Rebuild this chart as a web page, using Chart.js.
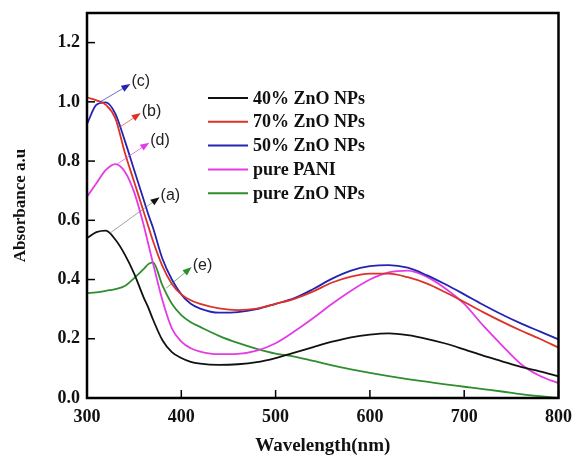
<!DOCTYPE html>
<html>
<head>
<meta charset="utf-8">
<script src="https://cdn.jsdelivr.net/npm/chart.js@4.4.1/dist/chart.umd.min.js"></script>
<style>
  html, body { margin: 0; padding: 0; background: #fff; }
  #wrap { width: 581px; height: 457px; }
</style>
</head>
<body>
<div id="wrap"><canvas id="absChart" width="581" height="457"></canvas></div>
<script>
// Wavelength (nm) sample points shared by all curves
const wavelengths = [300, 310, 320, 330, 340, 350, 360, 365, 370, 380, 390, 400, 410, 420, 440, 460, 480,
  500, 520, 540, 560, 580, 600, 620, 640, 660, 680, 700, 720, 740, 760, 780, 800];

const zno40 = [0.54, 0.56, 0.565, 0.535, 0.485, 0.42, 0.34, 0.305, 0.265, 0.195, 0.155, 0.135, 0.122, 0.116, 0.112, 0.114, 0.121,
  0.135, 0.153, 0.172, 0.19, 0.205, 0.214, 0.218, 0.212, 0.2, 0.184, 0.164, 0.143, 0.124, 0.105, 0.09, 0.073];
const zno70 = [1.015, 1.005, 0.99, 0.945, 0.83, 0.73, 0.63, 0.58, 0.53, 0.445, 0.385, 0.35, 0.33, 0.318, 0.303, 0.297, 0.302,
  0.318, 0.335, 0.36, 0.39, 0.41, 0.42, 0.42, 0.408, 0.387, 0.357, 0.324, 0.29, 0.258, 0.228, 0.2, 0.17];
const zno50 = [0.925, 0.99, 0.998, 0.96, 0.87, 0.77, 0.67, 0.62, 0.575, 0.47, 0.4, 0.35, 0.318, 0.302, 0.288, 0.29, 0.3,
  0.318, 0.337, 0.368, 0.403, 0.43, 0.445, 0.449, 0.44, 0.415, 0.384, 0.35, 0.315, 0.282, 0.252, 0.225, 0.198];
const purePani = [0.68, 0.725, 0.77, 0.79, 0.765, 0.695, 0.585, 0.52, 0.455, 0.33, 0.235, 0.19, 0.168, 0.157, 0.148, 0.149, 0.16,
  0.185, 0.225, 0.27, 0.318, 0.362, 0.4, 0.424, 0.43, 0.41, 0.37, 0.318, 0.245, 0.178, 0.115, 0.075, 0.05];
const pureZno = [0.354, 0.357, 0.362, 0.368, 0.378, 0.405, 0.435, 0.452, 0.458, 0.38, 0.318, 0.28, 0.256, 0.24, 0.21, 0.186, 0.166,
  0.15, 0.14, 0.125, 0.11, 0.097, 0.085, 0.074, 0.064, 0.055, 0.046, 0.038, 0.03, 0.022, 0.013, 0.006, 0.0];

const seriesNames = ['40% ZnO NPs', '70% ZnO NPs', '50% ZnO NPs', 'pure PANI', 'pure ZnO NPs'];
const xTicks = [300, 400, 500, 600, 700, 800];
const yTicks = [0.0, 0.2, 0.4, 0.6, 0.8, 1.0, 1.2];

const colors = ['#111111', '#dc3228', '#2424b4', '#e43ce4', '#2e8e2e'];
const serif = "'Liberation Serif', 'Times New Roman', serif";

// Arrow callouts (data coordinates)
const callouts = [
  { text: '(c)', from: [314, 1.0], to: [346, 1.06], color: colors[2] },
  { text: '(b)', from: [335, 0.915], to: [357, 0.962], color: colors[1] },
  { text: '(d)', from: [332, 0.79], to: [366, 0.862], color: colors[3] },
  { text: '(a)', from: [324, 0.556], to: [377, 0.678], color: colors[0] },
  { text: '(e)', from: [384, 0.371], to: [411, 0.442], color: colors[4] }
];

const toPoints = vals => vals.map((v, i) => ({ x: wavelengths[i], y: v }));
const allSeries = [zno40, zno70, zno50, purePani, pureZno];

// Frame, inward ticks, legend and callouts
const decorPlugin = {
  id: 'decor',
  afterDatasetsDraw(chart) {
    const { ctx, chartArea: ca, scales } = chart;
    ctx.save();
    ctx.strokeStyle = '#000';
    ctx.lineWidth = 1.5;
    xTicks.forEach(v => {
      const px = scales.x.getPixelForValue(v);
      ctx.beginPath(); ctx.moveTo(px, ca.bottom); ctx.lineTo(px, ca.bottom - 8); ctx.stroke();
    });
    yTicks.forEach(v => {
      const py = scales.y.getPixelForValue(v);
      ctx.beginPath(); ctx.moveTo(ca.left, py); ctx.lineTo(ca.left + 8, py); ctx.stroke();
    });
    ctx.lineWidth = 2.5;
    ctx.strokeRect(ca.left, ca.top, ca.right - ca.left, ca.bottom - ca.top);

    // callouts
    callouts.forEach(c => {
      const x0 = scales.x.getPixelForValue(c.from[0]), y0 = scales.y.getPixelForValue(c.from[1]);
      const x1 = scales.x.getPixelForValue(c.to[0]), y1 = scales.y.getPixelForValue(c.to[1]);
      const ang = Math.atan2(y1 - y0, x1 - x0);
      ctx.strokeStyle = c.color === colors[0] ? '#777' : c.color;
      ctx.globalAlpha = 0.75;
      ctx.lineWidth = 0.9;
      ctx.beginPath(); ctx.moveTo(x0, y0); ctx.lineTo(x1 - 7 * Math.cos(ang), y1 - 7 * Math.sin(ang)); ctx.stroke();
      ctx.globalAlpha = 1;
      ctx.fillStyle = c.color;
      ctx.beginPath();
      ctx.moveTo(x1, y1);
      ctx.lineTo(x1 - 9 * Math.cos(ang) + 3.5 * Math.sin(ang), y1 - 9 * Math.sin(ang) - 3.5 * Math.cos(ang));
      ctx.lineTo(x1 - 9 * Math.cos(ang) - 3.5 * Math.sin(ang), y1 - 9 * Math.sin(ang) + 3.5 * Math.cos(ang));
      ctx.closePath(); ctx.fill();
      ctx.fillStyle = '#222';
      ctx.font = "16px 'Liberation Sans', Arial, sans-serif";
      ctx.textAlign = 'left';
      ctx.textBaseline = 'middle';
      ctx.fillText(c.text, x1 + 1, y1 - 2);
    });

    // legend
    ctx.font = 'bold 18px ' + serif;
    ctx.textBaseline = 'middle';
    ctx.textAlign = 'left';
    const lx = ca.left + 121, rowY = ca.top + 85, rowH = 23.8;
    seriesNames.forEach((name, i) => {
      const y = rowY + i * rowH;
      ctx.strokeStyle = colors[i];
      ctx.lineWidth = 2;
      ctx.beginPath(); ctx.moveTo(lx, y); ctx.lineTo(lx + 40, y); ctx.stroke();
      ctx.fillStyle = '#111';
      ctx.fillText(name, lx + 45, y + 1);
    });
    ctx.restore();
  }
};

new Chart(document.getElementById('absChart'), {
  type: 'line',
  data: {
    datasets: allSeries.map((vals, i) => ({
      label: seriesNames[i],
      data: toPoints(vals),
      borderColor: colors[i],
      borderWidth: 1.8,
      pointRadius: 0,
      cubicInterpolationMode: 'monotone',
      fill: false
    }))
  },
  options: {
    responsive: false,
    animation: false,
    layout: { padding: { top: 13, right: 17, left: 0, bottom: 0 } },
    plugins: { legend: { display: false }, tooltip: { enabled: false } },
    scales: {
      x: {
        type: 'linear',
        min: 300,
        max: 800,
        afterFit: s => { s.height = 59; },
        afterBuildTicks: s => { s.ticks = xTicks.map(v => ({ value: v })); },
        grid: { display: false, drawTicks: false },
        border: { display: false },
        ticks: { color: '#111', padding: 9, font: { family: serif, size: 18, weight: 'bold' } },
        title: {
          display: true, text: 'Wavelength(nm)', color: '#111',
          font: { family: serif, size: 19, weight: 'bold', lineHeight: 1 },
          padding: { top: 0, bottom: 1 }
        }
      },
      y: {
        min: 0,
        max: 1.3,
        afterFit: s => { s.width = 87; s.paddingTop = 0; s.paddingBottom = 0; },
        afterBuildTicks: s => { s.ticks = yTicks.map(v => ({ value: v })); },
        grid: { display: false, drawTicks: false },
        border: { display: false },
        ticks: { color: '#111', padding: 7, font: { family: serif, size: 18, weight: 'bold' },
          callback: v => v.toFixed(1) },
        title: {
          display: true, text: 'Absorbance a.u', color: '#111',
          font: { family: serif, size: 17, weight: 'bold', lineHeight: 1 },
          padding: { top: 12, bottom: 0 }
        }
      }
    }
  },
  plugins: [decorPlugin]
});
</script>
</body>
</html>
